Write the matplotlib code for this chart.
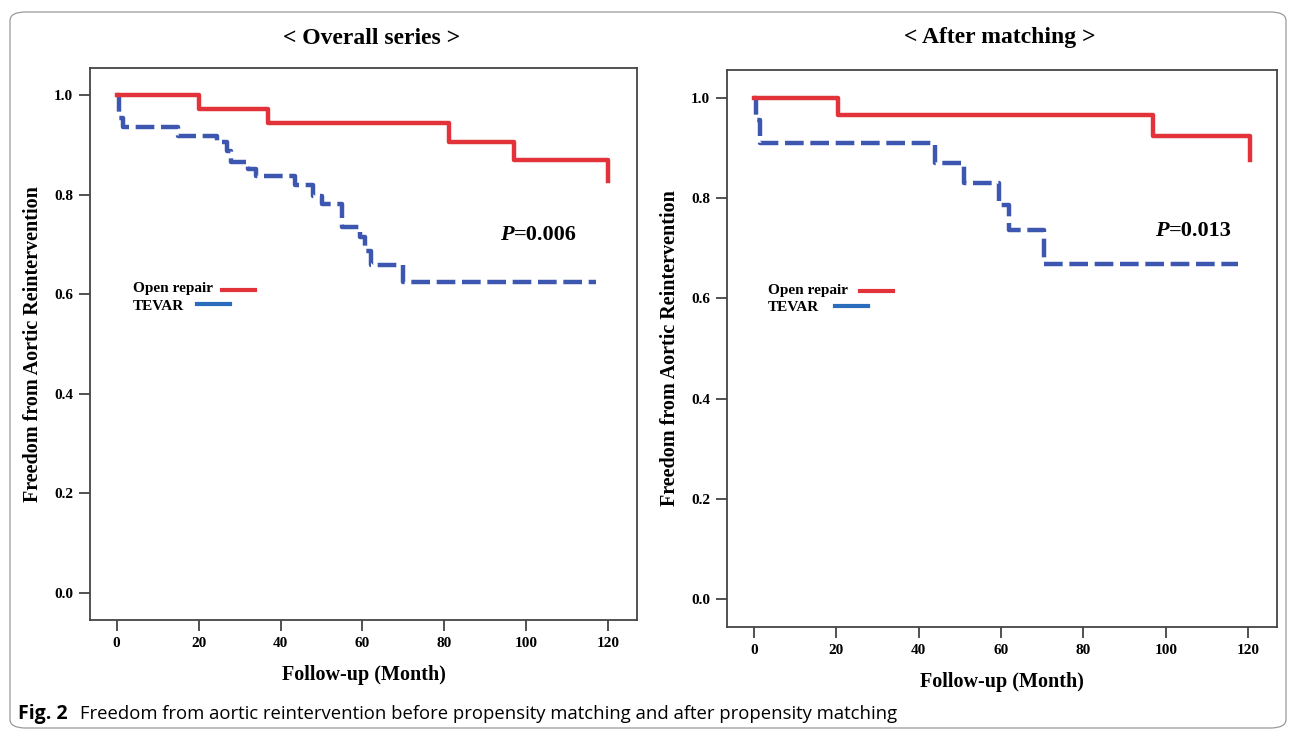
import matplotlib as mpl
import matplotlib.pyplot as plt
from matplotlib.lines import Line2D
from matplotlib.patches import FancyBboxPatch

# Kaplan-Meier steps (month, freedom after step)
left_open_t = [0, 20, 37, 81, 97, 120]
left_open_v = [1.0, 0.972, 0.944, 0.906, 0.871, 0.827]
left_tevar_t = [0, 0.5, 1.5, 15, 24.5, 27, 28, 32, 34, 43.5, 48, 50, 55,
                59.5, 60.5, 62, 70, 117]
left_tevar_v = [1.0, 0.955, 0.936, 0.918, 0.906, 0.888, 0.865, 0.851, 0.838,
                0.820, 0.797, 0.781, 0.735, 0.715, 0.687, 0.659, 0.624, 0.624]

right_open_t = [0, 20.5, 97, 120.5]
right_open_v = [1.0, 0.966, 0.924, 0.875]
right_tevar_t = [0, 0.5, 1.5, 44, 51, 59.5, 62, 70.5, 117.5]
right_tevar_v = [1.0, 0.955, 0.910, 0.870, 0.829, 0.785, 0.737, 0.669, 0.669]

titles = ['< Overall series >', '< After matching >']
p_values = ['=0.006', '=0.013']
x_ticks = [0, 20, 40, 60, 80, 100, 120]
y_ticks = [0.0, 0.2, 0.4, 0.6, 0.8, 1.0]

SERIF = 'Liberation Serif'
RED = '#e2323a'
BLUE = '#3d57b0'
LEG_BLUE = '#2b6cbc'

dpi = 100
fig = plt.figure(dpi=dpi, figsize=(1292 / dpi, 732 / dpi))
mpl.rcParams.update({'font.size': 10})

# rounded frame round the whole figure
fig.patches.append(FancyBboxPatch(
    (10 / 1292, 4 / 732), 1276 / 1292, 716 / 732,
    boxstyle='round,pad=0,rounding_size=0.012', transform=fig.transFigure,
    fill=False, edgecolor='#9a9a9a', linewidth=0.9))

axes_pos = [[90 / 1292, 112 / 732, 547 / 1292, 552 / 732],
            [727 / 1292, 105 / 732, 550 / 1292, 557 / 732]]
curves = [(left_open_t, left_open_v, left_tevar_t, left_tevar_v),
          (right_open_t, right_open_v, right_tevar_t, right_tevar_v)]
title_x = [372 / 1292, 1000 / 1292]
legend_pos = [(0.079, 0.60), (0.0745, 0.605)]
p_pos = [(0.75, 0.697), (0.778, 0.711)]
leg_line = [(0.241, 0.302, 0.195, 0.256), (0.242, 0.302, 0.196, 0.256)]

for i in range(2):
    ax = fig.add_axes(axes_pos[i])
    ot, ov, tt, tv = curves[i]
    ax.step(tt, tv, where='post', color=BLUE, linewidth=3.2,
            dashes=(4.2, 1.5), zorder=2)
    ax.step(ot, ov, where='post', color=RED, linewidth=3.2, zorder=3)

    ax.set_xlim(-6.5, 127)
    ax.set_ylim(-0.055, 1.055)
    ax.set_xticks(x_ticks)
    ax.set_yticks(y_ticks)
    ax.set_xticklabels([str(t) for t in x_ticks], fontfamily=SERIF,
                       fontweight='bold', fontsize=11)
    ax.set_yticklabels(['%.1f' % t for t in y_ticks], fontfamily=SERIF,
                       fontweight='bold', fontsize=11)
    ax.tick_params(direction='out', length=8, width=1.2, color='#333333',
                   pad=4)
    for s in ax.spines.values():
        s.set_color('#444444')
        s.set_linewidth(1.3)

    ax.set_xlabel('Follow-up (Month)', fontfamily=SERIF, fontweight='bold',
                  fontsize=14.5, labelpad=11)
    ax.set_ylabel('Freedom from Aortic Reintervention', fontfamily=SERIF,
                  fontweight='bold', fontsize=14.5, labelpad=8)

    fig.text(title_x[i], 1 - 38 / 732, titles[i], ha='center', va='center',
             fontfamily=SERIF, fontweight='bold', fontsize=17)

    # hand-made legend: label followed by a short line
    lx, ly = legend_pos[i]
    ax.text(lx, ly, 'Open repair', transform=ax.transAxes, fontfamily=SERIF,
            fontweight='bold', fontsize=11, va='center')
    ax.text(lx, ly - 0.032, 'TEVAR', transform=ax.transAxes, fontfamily=SERIF,
            fontweight='bold', fontsize=11, va='center')
    a, b, c, d = leg_line[i]
    ax.add_line(Line2D([a, b], [ly - 0.002, ly - 0.002], transform=ax.transAxes,
                       color=RED, linewidth=3))
    ax.add_line(Line2D([c, d], [ly - 0.028, ly - 0.028], transform=ax.transAxes,
                       color=LEG_BLUE, linewidth=3))

    px, py = p_pos[i]
    t1 = ax.text(px, py, 'P', transform=ax.transAxes, fontfamily=SERIF,
                 fontweight='bold', fontstyle='italic', fontsize=16,
                 va='center')
    ax.annotate(p_values[i], xy=(1, 0), xycoords=t1, va='bottom',
                fontfamily=SERIF, fontweight='bold', fontsize=16)

fig.text(18 / 1292, 1 - 714 / 732, 'Fig. 2', fontfamily='Open Sans',
         fontweight='bold', fontsize=14, va='center')
fig.text(80 / 1292, 1 - 714 / 732,
         'Freedom from aortic reintervention before propensity matching and '
         'after propensity matching', fontfamily='Open Sans', fontsize=13.3,
         va='center')

fig.savefig('out.png', dpi=dpi)
